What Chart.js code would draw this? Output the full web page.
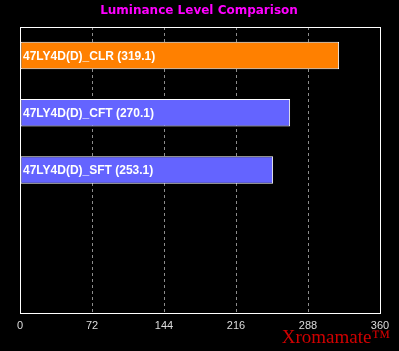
<!DOCTYPE html>
<html><head><meta charset="utf-8">
<script src="https://cdn.jsdelivr.net/npm/chart.js@4"></script>
<style>html,body{margin:0;padding:0;background:#000;}#wrap{width:399px;height:351px;position:relative;}</style>
</head><body><div id="wrap"><canvas id="c" width="399" height="351"></canvas></div>
<script>
const categories = ["47LY4D(D)_CLR", "47LY4D(D)_CFT", "47LY4D(D)_SFT", "", ""];
const values = [319.1, 270.1, 253.1, null, null];
const barColors = ["#FF8000", "#6464FF", "#6464FF", "#6464FF", "#6464FF"];
const tickLabels = [0, 72, 144, 216, 288, 360];
const titleText = "Luminance Level Comparison";
const brandText = "Xromamate";

const overlay = {
  id: 'overlay',
  beforeDraw(chart) {
    const ctx = chart.ctx;
    ctx.save();
    ctx.fillStyle = '#000';
    ctx.fillRect(0, 0, chart.width, chart.height);
    ctx.restore();
  },
  afterDatasetsDraw(chart) {
    const ctx = chart.ctx;
    const a = chart.chartArea;
    ctx.save();
    // border
    ctx.strokeStyle = '#fff';
    ctx.lineWidth = 1;
    ctx.strokeRect(Math.round(a.left) + 0.5, Math.round(a.top) + 0.5, Math.round(a.right - a.left), Math.round(a.bottom - a.top));
    // bar labels
    const meta = chart.getDatasetMeta(0);
    ctx.fillStyle = '#fff';
    ctx.font = 'bold 12px "Liberation Sans", Arial, sans-serif';
    ctx.textBaseline = 'middle';
    ctx.textAlign = 'left';
    meta.data.forEach((bar, i) => {
      if (values[i] == null) return;
      ctx.fillText(categories[i] + ' (' + values[i].toFixed(1) + ')', a.left + 3, bar.y + 1);
    });
    // title
    ctx.fillStyle = '#FF00FF';
    ctx.font = 'bold 12px "DejaVu Sans", sans-serif';
    ctx.textAlign = 'center';
    ctx.fillText(titleText, 199, 11);
    // brand
    ctx.fillStyle = '#D00000';
    ctx.font = '19px "Liberation Serif", "Times New Roman", serif';
    ctx.textAlign = 'right';
    ctx.textBaseline = 'alphabetic';
    ctx.fillText(brandText + '\u2122', 390, 343);
    ctx.restore();
  }
};

new Chart(document.getElementById('c'), {
  type: 'bar',
  data: {
    labels: categories,
    datasets: [{
      data: values,
      backgroundColor: barColors,
      borderColor: '#ffffff',
      borderWidth: 1,
      borderSkipped: false,
      categoryPercentage: 1,
      barPercentage: 0.48
    }]
  },
  options: {
    indexAxis: 'y',
    responsive: false,
    animation: false,
    layout: { padding: { left: 20, right: 19, top: 27, bottom: 0 } },
    plugins: { legend: { display: false }, tooltip: { enabled: false }, title: { display: false } },
    scales: {
      y: { display: false, offset: true },
      x: {
        min: 0, max: 360,
        afterBuildTicks(scale) { scale.ticks = tickLabels.map(v => ({ value: v })); },
        afterFit(scale) { scale.height = 38; },
        border: { display: false, dash: [3, 3] },
        grid: { color: '#8c8c8c', drawTicks: false, lineWidth: 1 },
        ticks: { color: '#dcdcdc', font: { size: 11, family: '"Liberation Sans", Arial, sans-serif' }, padding: 6, maxRotation: 0, autoSkip: false }
      }
    }
  },
  plugins: [overlay]
});
</script></body></html>
